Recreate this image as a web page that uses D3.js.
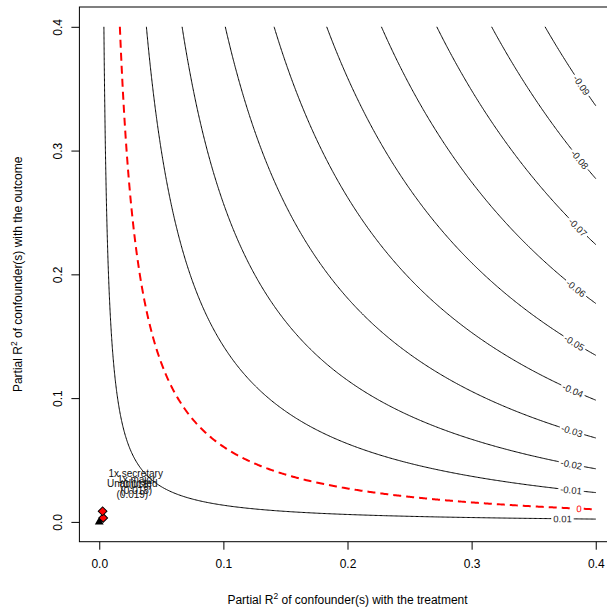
<!DOCTYPE html>
<html>
<head>
<meta charset="utf-8">
<script src="https://cdn.jsdelivr.net/npm/d3@7"></script>
<style>
  body { margin: 0; background: #fff; }
  svg { display: block; }
  text { font-family: "Liberation Sans", Arial, sans-serif; }
</style>
</head>
<body>
<svg id="chart" width="607" height="614"></svg>
<script>
// contour levels of the adjusted estimate (0 is the red dashed one)
const levels = [-0.09, -0.08, -0.07, -0.06, -0.05, -0.04, -0.03, -0.02, -0.01, 0, 0.01]
const redLevel = 0
const estimate = 0.0189     // unadjusted point estimate
const biasScale = 0.23      // se * sqrt(df)
const lim = 0.4
const xTicks = [0, 0.1, 0.2, 0.3, 0.4]
const yTicks = [0, 0.1, 0.2, 0.3, 0.4]

// bounds, first one is the unadjusted estimate
const benchNames = ['Unadjusted', '1x major', '1x secretary']
const benchR2dz = [0, 0.0032, 0.0027]
const benchR2yz = [0, 0.0032, 0.0086]
const benchEst = ['0.019', '0.018', '0.018']
const bump = lim / 15

const svg = d3.select('#chart')
const x = d3.scaleLinear().domain([-0.016, 0.416]).range([79.4, 615.6])
const y = d3.scaleLinear().domain([-0.016, 0.416]).range([541.7, 7])

// ── grid of adjusted estimates, contoured by d3 ──
const n = 401
const step = lim / (n - 1)
const values = new Float64Array(n * n)
for (let j = 0; j < n; j++) {
  for (let i = 0; i < n; i++) {
    const r2dz = i * step, r2yz = j * step
    values[j * n + i] = estimate - biasScale * Math.sqrt(r2yz * r2dz / (1 - r2dz))
  }
}
const contours = d3.contours().size([n, n]).thresholds(levels)(values)

// the polygons close along the grid border: keep only the inner part
function openLines(ring) {
  const pts = ring.slice(0, -1)
  const onEdge = p => p[0] <= 0 || p[0] >= n || p[1] <= 0 || p[1] >= n
  const start = pts.findIndex(onEdge)
  if (start < 0) return [pts]
  const rot = pts.slice(start).concat(pts.slice(0, start))
  const out = []
  let cur = []
  rot.forEach(p => {
    if (onEdge(p)) { if (cur.length > 1) out.push(cur); cur = [] }
    else cur.push(p)
  })
  if (cur.length > 1) out.push(cur)
  return out
}

const toPx = p => [x((p[0] - 0.5) * step), y((p[1] - 0.5) * step)]

function cutAt(pts, cum, s) {
  let i = d3.bisectLeft(cum, s)
  i = Math.max(1, Math.min(pts.length - 1, i))
  const t = (s - cum[i - 1]) / ((cum[i] - cum[i - 1]) || 1)
  return [pts[i - 1][0] + t * (pts[i][0] - pts[i - 1][0]), pts[i - 1][1] + t * (pts[i][1] - pts[i - 1][1])]
}
function sub(pts, cum, a, b) {
  const out = [cutAt(pts, cum, a)]
  pts.forEach((p, i) => { if (cum[i] > a && cum[i] < b) out.push(p) })
  out.push(cutAt(pts, cum, b))
  return out
}

const line = d3.line()
const gLines = svg.append('g')
const gLabels = svg.append('g')

contours.forEach(c => {
  const isRed = c.value === redLevel
  const col = isRed ? '#ff0000' : '#000'
  c.coordinates.forEach(poly => poly.forEach(ring => {
    openLines(ring).forEach(raw => {
      let pts = raw.map(toPx)
      // run from the top of the plot towards the right side
      if (pts[0][1] > pts[pts.length - 1][1]) pts = pts.reverse()
      const cum = [0]
      for (let i = 1; i < pts.length; i++) {
        cum.push(cum[i - 1] + Math.hypot(pts[i][0] - pts[i - 1][0], pts[i][1] - pts[i - 1][1]))
      }
      const total = cum[cum.length - 1]

      const label = gLabels.append('text')
        .text(String(c.value))
        .attr('font-size', 9.5)
        .attr('fill', isRed ? '#ff0000' : '#222')
        .attr('text-anchor', 'middle')
        .attr('dominant-baseline', 'central')
      const hw = label.node().getComputedTextLength() / 2
      // the lowest contour carries its label a bit further in
      const s = total - hw - (c.value === levels[levels.length - 1] ? 24 : 14)
      const p = cutAt(pts, cum, s)
      const a = cutAt(pts, cum, s - hw), b = cutAt(pts, cum, s + hw)
      let ang = Math.atan2(b[1] - a[1], b[0] - a[0]) * 180 / Math.PI
      if (ang > 90) ang -= 180
      if (ang < -90) ang += 180
      label.attr('transform', `translate(${p[0]},${p[1]}) rotate(${ang})`)

      const parts = [sub(pts, cum, 0, s - hw - 2), sub(pts, cum, s + hw + 2, total)]
      parts.forEach(part => {
        gLines.append('path')
          .attr('d', line(part))
          .attr('fill', 'none')
          .attr('stroke', col)
          .attr('stroke-width', isRed ? 2 : 1)
          .attr('stroke-dasharray', isRed ? '8,5' : null)
      })
    })
  }))
})

// ── benchmark bounds ──
const gBench = svg.append('g')
benchNames.forEach((name, i) => {
  const px = x(benchR2dz[i]), py = y(benchR2yz[i])
  if (i === 0) {
    gBench.append('path')
      .attr('d', d3.symbol(d3.symbolTriangle, 34)())
      .attr('transform', `translate(${px},${py})`)
      .attr('fill', '#000')
  } else {
    gBench.append('path')
      .attr('d', d3.symbol(d3.symbolSquare, 38)())
      .attr('transform', `translate(${px},${py}) rotate(45)`)
      .attr('fill', '#ff0000')
      .attr('stroke', '#000')
      .attr('stroke-width', 1)
  }
  const t = gBench.append('text')
    .attr('x', x(benchR2dz[i] + bump))
    .attr('y', y(benchR2yz[i] + bump))
    .attr('font-size', 10)
    .attr('fill', '#111')
    .attr('text-anchor', 'middle')
  t.append('tspan').attr('x', x(benchR2dz[i] + bump)).attr('dy', -1.5).text(name)
  t.append('tspan').attr('x', x(benchR2dz[i] + bump)).attr('dy', 11).text('(' + benchEst[i] + ')')
})

// ── box and axes ──
svg.append('rect')
  .attr('x', 79.4).attr('y', 7)
  .attr('width', 615.6 - 79.4).attr('height', 541.7 - 7)
  .attr('fill', 'none').attr('stroke', '#000').attr('stroke-width', 1)

const xAxis = svg.append('g')
  .attr('transform', 'translate(0,541.7)')
  .call(d3.axisBottom(x).tickValues(xTicks).tickFormat(d3.format('.1f')).tickSize(8).tickPadding(10))
const yAxis = svg.append('g')
  .attr('transform', 'translate(79.4,0)')
  .call(d3.axisLeft(y).tickValues(yTicks).tickFormat(d3.format('.1f')).tickSize(8).tickPadding(6))
;[xAxis, yAxis].forEach(g => {
  g.select('.domain').remove()
  g.selectAll('text').attr('font-size', 12).attr('font-family', '"Liberation Sans", Arial, sans-serif').attr('fill', '#000')
})
yAxis.selectAll('.tick text')
  .attr('text-anchor', 'middle')
  .attr('dy', 0)
  .attr('x', 0)
  .attr('transform', 'translate(-17,0) rotate(-90)')

function r2Title(g, rest) {
  const t = g.append('text').attr('font-size', 12).attr('text-anchor', 'middle').attr('fill', '#000')
  t.append('tspan').text('Partial R')
  t.append('tspan').attr('font-size', 8.5).attr('dy', -5).text('2')
  t.append('tspan').attr('dy', 5).text(' ' + rest)
  return t
}
const midX = (79.4 + 615.6) / 2, midY = (7 + 541.7) / 2
r2Title(svg.append('g').attr('transform', `translate(${midX},604)`), 'of confounder(s) with the treatment')
r2Title(svg.append('g').attr('transform', `translate(22,${midY}) rotate(-90)`), 'of confounder(s) with the outcome')
</script>
</body>
</html>
